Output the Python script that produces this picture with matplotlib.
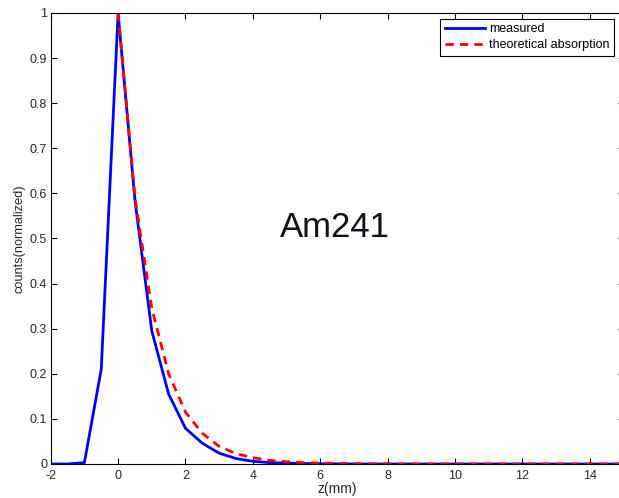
import numpy as np
import matplotlib.pyplot as plt

plt.rcParams['font.family'] = ['Liberation Sans', 'DejaVu Sans']
plt.rcParams['axes.unicode_minus'] = False

# measured profile
z_meas = [-2, -1.5, -1, -0.5, 0, 0.5, 1, 1.5, 2, 2.5, 3, 3.5, 4, 4.5, 5, 5.5, 6,
          7, 8, 9, 10, 11, 12, 13, 14, 15]
c_meas = [0, 0, 0.003, 0.21, 1.0, 0.585, 0.295, 0.155, 0.079, 0.046, 0.024, 0.012,
          0.006, 0.003, 0.002, 0.001, 0.0005, 0, 0, 0, 0, 0, 0, 0, 0, 0]

# theoretical absorption
z_theo = [0, 0.5, 1, 1.5, 2, 2.5, 3, 3.5, 4, 4.5, 5, 5.5, 6, 6.5, 7, 8, 9, 10,
          11, 12, 13, 14, 15]
c_theo = [1.0, 0.59, 0.345, 0.2, 0.115, 0.068, 0.039, 0.023, 0.014, 0.008, 0.005,
          0.003, 0.002, 0.001, 0.0006, 0.0002, 0, 0, 0, 0, 0, 0, 0]

fig = plt.figure(figsize=(6.19, 4.98), dpi=100)
ax = fig.add_axes([0.0819, 0.0683, 0.9255, 0.9056])

ax.plot(z_meas, c_meas, color='#0000ff', lw=2.0, label='measured')
ax.plot(z_theo, c_theo, color='#ff0000', lw=2.0, ls=(0, (3, 2.2)),
        label='theoretical absorption')

ax.set_xlim(-2, 15)
ax.set_ylim(0, 1)
ax.set_xticks(np.arange(-2, 15, 2))
ax.set_yticks(np.arange(0, 1.01, 0.1))
ax.set_yticklabels(['0', '0.1', '0.2', '0.3', '0.4', '0.5', '0.6', '0.7',
                    '0.8', '0.9', '1'])
ax.tick_params(direction='in', top=True, right=True, labelsize=9,
               labelcolor='#262633', length=4, width=0.8)
ax.tick_params(axis='x', pad=4.5)
ax.tick_params(axis='y', pad=2.5)
for s in ax.spines.values():
    s.set_linewidth(0.8)

ax.set_xlabel('z(mm)', fontsize=10, color='#262633', labelpad=0)
ax.set_ylabel('counts(normalized)', fontsize=9.2, color='#262633', labelpad=3)

ax.text(6.44, 0.525, 'Am241', fontsize=25, ha='center', va='center', color='#10101a')

leg = ax.legend(loc='upper right', bbox_to_anchor=(614 / 619, 1 - 18.7 / 498),
                bbox_transform=fig.transFigure, borderaxespad=0, fontsize=9,
                fancybox=False, framealpha=1, edgecolor='black',
                handlelength=3.2, handletextpad=0.35, borderpad=0.35,
                labelspacing=0.35)
leg.get_frame().set_linewidth(0.8)

fig.savefig('out.png', dpi=100)
